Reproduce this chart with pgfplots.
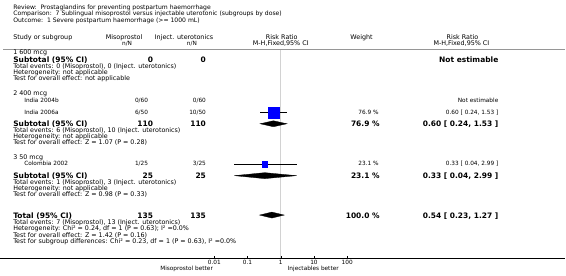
\documentclass[border=0pt]{standalone}
\usepackage{pgfplots}
\pgfplotsset{compat=1.18}
\usepackage{fontspec}
\setmainfont{DejaVu Sans}
\newcommand\ti{\fontsize{6.1}{6}\selectfont}
\newcommand\hd{\fontsize{6.4}{6}\selectfont}
\newcommand\sm{\fontsize{6.35}{6}\selectfont}
\newcommand\xs{\fontsize{5.8}{6}\selectfont}
\newcommand\bg{\fontsize{7.5}{8}\selectfont\bfseries}
\definecolor{sqblue}{RGB}{0,0,255}
\definecolor{vgray}{RGB}{210,210,210}
\definecolor{hgray}{RGB}{150,150,150}
\begin{document}
\begin{tikzpicture}[every node/.style={inner sep=0pt, outer sep=0pt}]
% ---------- canvas axis for text ----------
\begin{axis}[at={(0,0)}, anchor=north west, width=566pt, height=276pt, scale only axis,
  xmin=0, xmax=566, ymin=0, ymax=276, y dir=reverse, hide axis, clip=false]
\path[draw=none] (axis cs:0,0) rectangle (axis cs:566,276);
% titles
\node[anchor=base west] at (axis cs:13,9.5) {\ti Review:\ \ Prostaglandins for preventing postpartum haemorrhage};
\node[anchor=base west] at (axis cs:13,16) {\ti Comparison:\ \ 7 Sublingual misoprostol versus injectable uterotonic (subgroups by dose)};
\node[anchor=base west] at (axis cs:13,22.5) {\ti Outcome:\ \ 1 Severe postpartum haemorrhage (>= 1000 mL)};
% header
\node[anchor=base west] at (axis cs:13,39.5) {\hd Study or subgroup};
\node[anchor=base] at (axis cs:124,39.5) {\hd Misoprostol};
\node[anchor=base] at (axis cs:127,45.5) {\xs n/N};
\node[anchor=base] at (axis cs:184,39.5) {\hd Inject. uterotonics};
\node[anchor=base] at (axis cs:192,45.5) {\xs n/N};
\node[anchor=base] at (axis cs:282,39.5) {\hd Risk Ratio};
\node[anchor=base] at (axis cs:281,45.5) {\hd M-H,Fixed,95\% CI};
\node[anchor=base] at (axis cs:362,39.5) {\hd Weight};
\node[anchor=base] at (axis cs:463,39.5) {\hd Risk Ratio};
\node[anchor=base] at (axis cs:462,45.5) {\hd M-H,Fixed,95\% CI};
\draw[hgray, line width=1.6pt] (axis cs:3,49.5) -- (axis cs:566,49.5);
% group 1
\node[anchor=base west] at (axis cs:13,55) {\sm 1 600 mcg};
\node[anchor=base west] at (axis cs:13,62.5) {\bg Subtotal (95\% CI)};
\node[anchor=base east] at (axis cs:153,62.5) {\bg 0};
\node[anchor=base east] at (axis cs:206,62.5) {\bg 0};
\node[anchor=base east] at (axis cs:499,62.5) {\bg Not estimable};
\node[anchor=base west] at (axis cs:13,69) {\sm Total events: 0 (Misoprostol), 0 (Inject. uterotonics)};
\node[anchor=base west] at (axis cs:13,75) {\sm Heterogeneity: not applicable};
\node[anchor=base west] at (axis cs:13,81) {\sm Test for overall effect: not applicable};
% group 2
\node[anchor=base west] at (axis cs:13,96) {\sm 2 400 mcg};
\node[anchor=base west] at (axis cs:24,103) {\xs India 2004b};
\node[anchor=base east] at (axis cs:148,103) {\xs 0/60};
\node[anchor=base east] at (axis cs:206,103) {\xs 0/60};
\node[anchor=base east] at (axis cs:499,103) {\xs Not estimable};
\node[anchor=base west] at (axis cs:24,115) {\xs India 2006a};
\node[anchor=base east] at (axis cs:148,115) {\xs 6/50};
\node[anchor=base east] at (axis cs:206,115) {\xs 10/50};
\node[anchor=base east] at (axis cs:379,115) {\xs 76.9 \%};
\node[anchor=base east] at (axis cs:499,115) {\xs 0.60 [ 0.24, 1.53 ]};
\node[anchor=base west] at (axis cs:13,126.5) {\bg Subtotal (95\% CI)};
\node[anchor=base east] at (axis cs:153,126.5) {\bg 110};
\node[anchor=base east] at (axis cs:206,126.5) {\bg 110};
\node[anchor=base east] at (axis cs:380,126.5) {\bg 76.9 \%};
\node[anchor=base east] at (axis cs:499,126.5) {\bg 0.60 [ 0.24, 1.53 ]};
\node[anchor=base west] at (axis cs:13,133) {\sm Total events: 6 (Misoprostol), 10 (Inject. uterotonics)};
\node[anchor=base west] at (axis cs:13,139) {\sm Heterogeneity: not applicable};
\node[anchor=base west] at (axis cs:13,145) {\sm Test for overall effect: Z = 1.07 (P = 0.28)};
% group 3
\node[anchor=base west] at (axis cs:13,160) {\sm 3 50 mcg};
\node[anchor=base west] at (axis cs:24,166) {\xs Colombia 2002};
\node[anchor=base east] at (axis cs:148,166) {\xs 1/25};
\node[anchor=base east] at (axis cs:206,166) {\xs 3/25};
\node[anchor=base east] at (axis cs:379,166) {\xs 23.1 \%};
\node[anchor=base east] at (axis cs:499,166) {\xs 0.33 [ 0.04, 2.99 ]};
\node[anchor=base west] at (axis cs:13,178.5) {\bg Subtotal (95\% CI)};
\node[anchor=base east] at (axis cs:153,178.5) {\bg 25};
\node[anchor=base east] at (axis cs:206,178.5) {\bg 25};
\node[anchor=base east] at (axis cs:380,178.5) {\bg 23.1 \%};
\node[anchor=base east] at (axis cs:499,178.5) {\bg 0.33 [ 0.04, 2.99 ]};
\node[anchor=base west] at (axis cs:13,185) {\sm Total events: 1 (Misoprostol), 3 (Inject. uterotonics)};
\node[anchor=base west] at (axis cs:13,191) {\sm Heterogeneity: not applicable};
\node[anchor=base west] at (axis cs:13,197) {\sm Test for overall effect: Z = 0.98 (P = 0.33)};
% total
\node[anchor=base west] at (axis cs:13,218.5) {\bg Total (95\% CI)};
\node[anchor=base east] at (axis cs:153,218.5) {\bg 135};
\node[anchor=base east] at (axis cs:206,218.5) {\bg 135};
\node[anchor=base east] at (axis cs:380,218.5) {\bg 100.0 \%};
\node[anchor=base east] at (axis cs:499,218.5) {\bg 0.54 [ 0.23, 1.27 ]};
\node[anchor=base west] at (axis cs:13,225) {\sm Total events: 7 (Misoprostol), 13 (Inject. uterotonics)};
\node[anchor=base west] at (axis cs:13,231) {\sm Heterogeneity: Chi² = 0.24, df = 1 (P = 0.63); I² =0.0\%};
\node[anchor=base west] at (axis cs:13,238) {\sm Test for overall effect: Z = 1.42 (P = 0.16)};
\node[anchor=base west] at (axis cs:13,244) {\sm Test for subgroup differences: Chi² = 0.23, df = 1 (P = 0.63), I² =0.0\%};
% axis captions
\node[anchor=base east] at (axis cs:213,271.5) {\xs Misoprostol better};
\node[anchor=base west] at (axis cs:288,271.5) {\xs Injectables better};
\end{axis}
% ---------- forest axis ----------
\begin{axis}[at={(0,0)}, anchor=north west, width=566pt, height=259pt, scale only axis,
  xmode=log, xmin=3.648e-9, xmax=3.622e8, ymin=0, ymax=259, y dir=reverse,
  axis x line=bottom, axis y line=none, x axis line style={-, black, line width=0.7pt},
  xtick={0.01,0.1,1,10,100}, xticklabels={0.01,0.1,1,10,100},
  xminorticks=false, tick align=inside, major tick length=2.5pt,
  tick style={black, line width=0.5pt},
  xticklabel style={font=\xs, yshift=-2pt}, clip=false]
\addplot[vgray, line width=1.4pt, mark=none] coordinates {(1,50) (1,259)};
% India 2006a
\addplot[only marks, mark=square*, mark size=5.5pt, mark options={draw=sqblue, fill=sqblue}] coordinates {(0.60,112.5)};
\addplot[black, line width=0.5pt, mark=none] coordinates {(0.24,112.5) (1.53,112.5)};
\addplot[black, line width=0.5pt, mark=none] coordinates {(0.60,110.5) (0.60,114.5)};
% subtotal 2400
\addplot[fill=black, draw=black, line width=0.3pt, mark=none] coordinates {(0.24,124) (0.60,121) (1.53,124) (0.60,127)} --cycle;
% Colombia 2002
\addplot[only marks, mark=square*, mark size=2.6pt, mark options={draw=sqblue, fill=sqblue}] coordinates {(0.33,164.5)};
\addplot[black, line width=0.5pt, mark=none] coordinates {(0.04,164.5) (2.99,164.5)};
% subtotal 350
\addplot[fill=black, draw=black, line width=0.3pt, mark=none] coordinates {(0.04,176) (0.33,173) (2.99,176) (0.33,179)} --cycle;
% total
\addplot[fill=black, draw=black, line width=0.3pt, mark=none] coordinates {(0.23,215.5) (0.54,212.5) (1.27,215.5) (0.54,218.5)} --cycle;
\end{axis}
\end{tikzpicture}
\end{document}
